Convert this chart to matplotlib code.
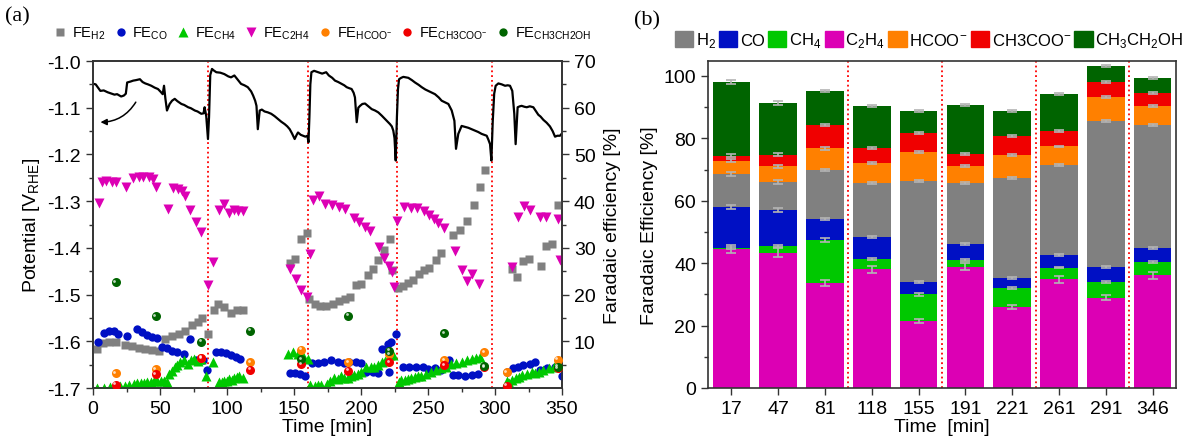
import numpy as np
import matplotlib
matplotlib.use("Agg")
import matplotlib.pyplot as plt
from matplotlib.lines import Line2D
from matplotlib.patches import Patch
from matplotlib.transforms import offset_copy

plt.rcParams['font.family'] = ['Liberation Sans', 'DejaVu Sans']
plt.rcParams['mathtext.fontset'] = 'custom'
plt.rcParams['mathtext.rm'] = 'Liberation Sans'

# ---------------- panel (a) data ----------------
# electrode potential vs time
t_pot = [0.5, 2, 4, 5.5, 8, 11, 13, 16, 18, 21, 23, 24.5, 25.5, 28, 30, 32, 35, 37, 39, 41, 43.5, 46,
         48.5, 50.5, 52, 53, 54, 55.2, 57.2, 59, 61, 63, 66, 68, 71, 73, 76, 78, 80.8, 82.5, 83.3, 84.5,
         85.8, 86.6, 87.5, 88.8, 90, 92, 95, 98, 101, 103, 105.5, 108, 110.5, 113, 115.5, 118, 119.5,
         121, 122, 123, 124.4, 126, 128, 130.5, 133, 135.5, 138, 140.5, 143, 145, 146.8, 148.5, 150.5,
         152, 153, 155, 156.7, 158.5, 160, 160.8, 161.5, 162.2, 163, 165, 168, 171, 174, 176, 178.5,
         180.6, 183, 185.6, 187.5, 189.3, 191, 193, 194.5, 195.5, 196.8, 198, 199.3, 201, 203, 205.5,
         208, 210.5, 212.9, 215.5, 217.9, 220, 221.6, 223, 224.1, 225, 225.9, 226.8, 227.6, 228.4, 230,
         231.6, 233.5, 235.3, 238, 240.3, 243, 245.3, 248, 250.2, 253, 255.2, 258, 260.2, 263, 265.2,
         267.7, 269.7, 270.9, 272.6, 275.1, 277.5, 280.1, 282.5, 285.1, 287.5, 290, 292, 293.8, 295,
         296.3, 297.3, 298.3, 299.4, 300.5, 302.5, 305, 307.5, 309.5, 311.2, 312.9, 314.4, 315.4, 316.9,
         318.5, 319.9, 322, 323.7, 326, 328.6, 330.5, 332.3, 334, 336.1, 338.5, 341, 343, 344.8, 346.5,
         348.5, 350]
v_pot = [-1.049, -1.050, -1.058, -1.064, -1.063, -1.067, -1.069, -1.072, -1.071, -1.076, -1.074, -1.070,
         -1.046, -1.044, -1.042, -1.041, -1.039, -1.045, -1.048, -1.050, -1.053, -1.057, -1.060, -1.066,
         -1.071, -1.053, -1.080, -1.106, -1.092, -1.085, -1.081, -1.086, -1.092, -1.094, -1.099, -1.101,
         -1.106, -1.108, -1.113, -1.112, -1.099, -1.118, -1.167, -1.120, -1.030, -1.017, -1.020, -1.024,
         -1.025, -1.028, -1.033, -1.035, -1.031, -1.040, -1.049, -1.052, -1.056, -1.065, -1.074, -1.085,
         -1.096, -1.146, -1.106, -1.104, -1.108, -1.110, -1.113, -1.118, -1.124, -1.130, -1.135, -1.140,
         -1.146, -1.155, -1.167, -1.158, -1.153, -1.158, -1.160, -1.162, -1.160, -1.174, -1.120, -1.050,
         -1.024, -1.021, -1.024, -1.027, -1.024, -1.031, -1.036, -1.042, -1.045, -1.049, -1.052, -1.056,
         -1.058, -1.060, -1.068, -1.078, -1.131, -1.100, -1.096, -1.092, -1.091, -1.097, -1.103, -1.106,
         -1.110, -1.117, -1.124, -1.130, -1.135, -1.140, -1.149, -1.165, -1.213, -1.120, -1.060, -1.039,
         -1.036, -1.034, -1.035, -1.036, -1.041, -1.046, -1.051, -1.056, -1.061, -1.064, -1.068, -1.071,
         -1.078, -1.085, -1.089, -1.092, -1.106, -1.128, -1.188, -1.156, -1.139, -1.141, -1.143, -1.146,
         -1.149, -1.152, -1.156, -1.158, -1.160, -1.168, -1.178, -1.213, -1.130, -1.070, -1.053, -1.048,
         -1.050, -1.053, -1.052, -1.053, -1.064, -1.113, -1.178, -1.099, -1.097, -1.096, -1.098, -1.099,
         -1.097, -1.099, -1.107, -1.115, -1.119, -1.126, -1.132, -1.140, -1.150, -1.162, -1.160, -1.160,
         -1.155]

t_h2 = [3, 7.5, 11.8, 17.5, 24, 29, 34, 39, 44, 49, 54, 59, 64, 69, 74, 78, 81, 86, 90, 93.5, 98, 103,
        107.5, 112, 147, 151, 155.5, 159.5, 161, 165.5, 169.5, 173.8, 178.8, 183.8, 188, 191.5, 196.3,
        200, 205, 208.8, 213, 217, 221.3, 222.8, 227.5, 231, 235, 239, 243, 247, 251, 256, 260, 269, 274,
        279, 284, 288.8, 292.8, 312.5, 316.5, 321, 325.5, 334, 338, 342.5, 347]
fe_h2 = [8.4, 9.6, 9.8, 9.8, 9.2, 8.9, 8.6, 8.4, 8.1, 8.0, 10.5, 11.1, 11.6, 12.3, 13.4, 14.2, 14.9, 11.6,
         16.6, 18.0, 17.3, 16.1, 16.6, 16.8, 26.8, 27.6, 31.9, 33.2, 19.1, 18.0, 17.5, 17.6, 18.0, 18.6,
         19.0, 19.5, 22.0, 22.2, 24.1, 25.4, 27.5, 29.6, 32.0, 25.2, 21.5, 21.8, 22.5, 23.2, 24.5, 25.2,
         25.7, 27.5, 28.9, 32.7, 33.8, 35.8, 39.1, 43.1, 46.7, 25.4, 23.8, 27.1, 27.6, 26.2, 30.3, 30.8,
         39.2]

t_co = [3.5, 8, 12, 16, 18.5, 25, 33, 36.8, 40.5, 44.3, 47.5, 51.8, 55.5, 59.3, 63, 68, 72.5, 76.8, 82,
        85, 91.8, 95.5, 99, 102.8, 106.5, 110, 146.8, 150.5, 154.3, 158, 163.5, 168, 172.5, 177.5,
        182.5, 187.5, 191, 196, 200, 203.8, 209, 212.5, 215.5, 220, 221, 222.5, 226, 231, 236, 241, 246,
        250, 255, 260, 266, 268.8, 272.5, 277.5, 282.5, 287.5, 308.8, 313.8, 317.5, 321, 326, 329.5,
        333.8, 338.8, 345, 350]
fe_co = [9.9, 11.7, 12.3, 12.1, 11.6, 11.1, 12.6, 11.9, 11.4, 11.0, 10.6, 8.7, 8.6, 8.0, 7.6, 7.3, 10.4,
         5.9, 5.9, 3.9, 7.6, 7.8, 7.5, 7.0, 6.6, 6.3, 3.2, 3.2, 3.0, 2.6, 5.4, 5.4, 5.6, 6.0, 5.6, 5.4,
         5.6, 5.6, 5.3, 3.5, 3.4, 3.2, 8.3, 9.5, 3.4, 9.9, 11.6, 4.6, 4.6, 4.4, 4.4, 4.1, 4.2, 3.9, 6.0,
         2.8, 2.7, 2.5, 2.8, 3.0, 3.5, 4.2, 4.6, 4.9, 5.1, 5.6, 3.9, 4.2, 4.6, 2.5]

t_ch4 = [3, 8, 13, 17, 20.5, 24, 27, 30.5, 33, 35.5, 38, 40.5, 43, 45.5, 48, 50.5, 53, 55.5, 56.8, 59, 61,
         63, 65, 68, 71, 73, 75.5, 78, 80.5, 84.3, 89.3, 94.3, 96, 98, 100, 101.8, 104, 105.5, 107.5,
         109.3, 111.8, 145.5, 149, 153, 156.8, 160.5, 161.8, 165.5, 168, 170.5, 174.3, 177, 180, 182.5,
         185, 187.5, 190, 192.5, 195, 197.5, 200, 203.8, 207.5, 210, 212.5, 216, 218, 220, 222, 223.8,
         228, 230, 232.5, 235, 237.5, 240, 242.5, 245, 248.8, 252.5, 256, 260, 263.8, 267.5, 271, 275,
         278.8, 282.5, 286, 288.8, 308.8, 310.5, 312.5, 316, 318, 320, 323.8, 327.5, 330, 332.5, 336,
         340, 343.8, 347.5]
fe_ch4 = [0.1, 0.1, 0.3, 0.3, 0.4, 0.5, 0.7, 0.9, 1.0, 1.1, 1.1, 1.2, 1.3, 1.6, 1.6, 1.6, 1.4, 1.2, 3.0,
          3.6, 4.4, 5.0, 5.5, 5.9, 5.2, 6.0, 6.2, 5.8, 6.3, 2.6, 5.5, 1.2, 1.3, 1.6, 1.5, 1.9, 1.8, 2.1,
          2.3, 2.5, 2.2, 7.3, 7.6, 7.3, 6.9, 6.2, 0.7, 0.5, 0.6, 0.6, 0.9, 1.5, 2.1, 1.9, 2.5, 2.2, 2.1,
          2.6, 2.8, 3.0, 3.5, 4.4, 4.6, 4.5, 4.9, 5.6, 5.8, 6.3, 7.0, 7.0, 1.2, 1.8, 1.7, 2.0, 2.1, 2.3,
          2.6, 2.5, 3.0, 3.5, 3.9, 4.2, 4.6, 5.1, 5.3, 5.6, 6.0, 6.2, 6.5, 6.7, 1.4, 1.0, 1.8, 2.1, 2.4,
          2.8, 3.0, 3.4, 3.2, 3.5, 3.9, 4.2, 4.6, 4.9]

t_c2h4 = [4.5, 7, 10, 14, 17.5, 24.5, 29.5, 34, 37.5, 41.5, 44.5, 47, 55.7, 59.5, 63.2, 66.5, 69, 72.5,
          76.8, 80.8, 85.7, 89.3, 94.3, 98, 101.5, 105, 108.5, 112, 146.8, 151.8, 155.5, 159.8, 161.8,
          164.5, 168.5, 173.3, 178.3, 183.3, 188.3, 194.5, 198.3, 203.3, 207, 213.3, 217, 220.8, 223.3,
          224.8, 227, 232, 237, 242, 247, 250.8, 254.5, 257.5, 262, 270.5, 275, 279, 282.8, 287.8, 312.5,
          317, 321.5, 326.3, 333.3, 337.8, 347, 348.8]
fe_c2h4 = [39.5, 44.1, 44.3, 44.1, 44.0, 43.1, 45.0, 45.2, 45.2, 45.2, 44.8, 43.1, 38.4, 42.8, 42.5, 42.1,
           41.2, 38.0, 35.5, 33.4, 22.0, 27.0, 38.1, 39.4, 37.5, 38.0, 37.9, 37.9, 25.5, 23.4, 20.9, 19.4,
           28.7, 40.2, 41.0, 39.3, 39.1, 38.8, 38.4, 36.3, 35.6, 34.4, 33.6, 30.2, 27.9, 26.2, 24.8, 21.6,
           35.8, 38.8, 38.6, 38.5, 37.8, 37.1, 36.1, 35.4, 34.3, 29.4, 25.2, 23.0, 24.3, 22.2, 26.0, 36.6,
           38.9, 38.2, 36.6, 36.6, 36.2, 27.3]

t_liq = [16.8, 46.8, 80.5, 117.5, 155.5, 190.5, 220.8, 261.8, 292, 308.8, 346.8]
fe_hcoo = [3.2, 4.1, 6.5, 5.6, 8.2, 5.6, 7.2, 5.9, 7.6, 3.4, 6.1]
fe_ch3coo = [0.7, 2.9, 6.4, 3.9, 5.1, 3.7, 5.5, 4.9, 4.5, 0.5, 4.2]
t_etoh = [16.8, 46.8, 80.5, 117.5, 155.5, 190.5, 220.8, 261.8, 292, 346.8]
fe_etoh = [22.6, 15.4, 9.9, 12.3, 6.2, 15.5, 8.0, 11.8, 4.7, 4.6]

t_breaks = [86, 160.5, 227, 298]

# ---------------- panel (b) data ----------------
time_labels = ['17', '47', '81', '118', '155', '191', '221', '261', '291', '346']
fe_b_c2h4 = [44.5, 43.4, 33.7, 38.0, 21.5, 38.9, 26.0, 34.8, 28.9, 36.1]
fe_b_ch4 = [0.5, 2.2, 13.8, 3.3, 8.5, 2.1, 6.1, 3.8, 5.0, 4.4]
fe_b_co = [13.0, 11.5, 6.7, 7.2, 4.0, 5.1, 3.2, 4.1, 5.0, 4.4]
fe_b_h2 = [10.6, 8.9, 15.6, 17.1, 32.4, 19.6, 32.0, 28.7, 46.8, 39.4]
fe_b_hcoo = [4.3, 5.0, 7.0, 6.4, 9.1, 5.5, 7.4, 6.0, 7.5, 6.0]
fe_b_ch3coo = [1.6, 3.8, 7.5, 5.0, 6.3, 3.8, 6.0, 4.9, 4.9, 4.3]
fe_b_etoh = [23.5, 16.5, 10.9, 13.3, 7.1, 15.8, 8.1, 12.0, 5.0, 4.7]
err_b_c2h4 = [1.2, 1.5, 1.0, 1.0, 0.7, 1.2, 0.7, 1.2, 0.8, 1.2]
err_b_ch4 = [0.3, 0.3, 0.7, 0.3, 0.4, 0.3, 0.3, 0.3, 0.3, 0.3]
err_b_rest = [0.6, 0.6, 0.4, 0.3, 0.3, 0.3, 0.3, 0.3, 0.3, 0.3]
b_breaks = [2.5, 4.5, 6.5, 8.5]

c_h2 = '#808080'
c_co = '#0010C4'
c_ch4 = '#00C800'
c_c2h4 = '#DC00B4'
c_hcoo = '#FF8000'
c_ch3coo = '#F00000'
c_etoh = '#006400'

fig = plt.figure(figsize=(11.84, 4.39), dpi=100)

# ================= (a) =================
ax1 = fig.add_axes([93 / 1184, 50 / 439, 469 / 1184, 327 / 439])
ax1r = ax1.twinx()

for tb in t_breaks:
    ax1.axvline(tb, color='red', ls=':', lw=1.3)
ax1.plot(t_pot, v_pot, color='black', lw=1.6)
ax1.annotate('', xy=(3.5, -1.131), xytext=(33, -1.083),
             arrowprops=dict(arrowstyle='-|>', connectionstyle='arc3,rad=-0.3',
                             color='black', lw=1.1, mutation_scale=9))

ms = 6
ax1r.plot(t_h2, fe_h2, 's', color=c_h2, ms=ms, mec='none')
ax1r.plot(t_co, fe_co, 'o', color=c_co, ms=ms, mec='none')
ax1r.plot(t_ch4, fe_ch4, '^', color=c_ch4, ms=ms + 0.5, mec='none')
ax1r.plot(t_c2h4, fe_c2h4, 'v', color=c_c2h4, ms=ms + 0.5, mec='none')
hl = offset_copy(ax1r.transData, fig=fig, x=-1.3, y=1.3, units='dots')
for tt, ff, cc in [(t_liq, fe_hcoo, c_hcoo), (t_liq, fe_ch3coo, c_ch3coo), (t_etoh, fe_etoh, c_etoh)]:
    ax1r.plot(tt, ff, 'o', color=cc, ms=ms + 0.5, mec='none', zorder=5)
    ax1r.plot(tt, ff, 'o', color='white', ms=2, mec='none', alpha=0.75, zorder=6, transform=hl)

ax1.set_xlim(0, 350)
ax1.set_ylim(-1.7, -1.0)
ax1r.set_ylim(0, 70)
ax1.set_xticks(np.arange(0, 351, 50))
ax1.set_xticks(np.arange(0, 351, 25), minor=True)
ax1.set_yticks(np.arange(-1.7, -0.99, 0.1))
ax1.set_yticks(np.arange(-1.7, -0.99, 0.05), minor=True)
ax1.yaxis.set_major_formatter(matplotlib.ticker.FormatStrFormatter('%.1f'))
ax1r.set_yticks(np.arange(10, 71, 10))
ax1r.set_yticks(np.arange(5, 71, 5), minor=True)

ax1.set_xlabel('Time [min]', fontsize=14, labelpad=1)
ax1.set_ylabel(r'Potential [V$_\mathregular{RHE}$]', fontsize=14, labelpad=4)
ax1r.set_ylabel('Faradaic efficiency [%]', fontsize=14, labelpad=6)

for a in (ax1, ax1r):
    a.tick_params(which='both', direction='out', labelsize=14, width=1, color='#333333')
    a.tick_params(which='major', length=5)
    a.tick_params(which='minor', length=3)
    for s in a.spines.values():
        s.set_linewidth(1.2)
        s.set_color('#333333')

leg_a = [
    Line2D([], [], marker='s', color=c_h2, ls='none', ms=6, mec='none', label=r'FE$_\mathregular{H2}$'),
    Line2D([], [], marker='o', color=c_co, ls='none', ms=6, mec='none', label=r'FE$_\mathregular{CO}$'),
    Line2D([], [], marker='^', color=c_ch4, ls='none', ms=7, mec='none', label=r'FE$_\mathregular{CH4}$'),
    Line2D([], [], marker='v', color=c_c2h4, ls='none', ms=7, mec='none', label=r'FE$_\mathregular{C2H4}$'),
    Line2D([], [], marker='o', color=c_hcoo, ls='none', ms=6, mec='none', label=r'FE$_\mathregular{HCOO^{-}}$'),
    Line2D([], [], marker='o', color=c_ch3coo, ls='none', ms=6, mec='none', label=r'FE$_\mathregular{CH3COO^{-}}$'),
    Line2D([], [], marker='o', color=c_etoh, ls='none', ms=6, mec='none', label=r'FE$_\mathregular{CH3CH2OH}$'),
]
fig.legend(handles=leg_a, loc='center', bbox_to_anchor=(322 / 1184, 1 - 34 / 439), ncol=7,
           frameon=False, fontsize=10.5, handletextpad=0.3, columnspacing=0.55, handlelength=1.0,
           borderpad=0)

fig.text(5 / 1184, 1 - 17 / 439, '(a)', fontsize=16, family='Liberation Serif', va='center')

# ================= (b) =================
ax2 = fig.add_axes([708 / 1184, 50 / 439, 468 / 1184, 327 / 439])
x = np.arange(len(time_labels))
w = 0.8
stack = [(fe_b_c2h4, c_c2h4, err_b_c2h4), (fe_b_ch4, c_ch4, err_b_ch4), (fe_b_co, c_co, err_b_rest),
         (fe_b_h2, c_h2, err_b_rest), (fe_b_hcoo, c_hcoo, err_b_rest),
         (fe_b_ch3coo, c_ch3coo, err_b_rest), (fe_b_etoh, c_etoh, err_b_rest)]
bottom = np.zeros(len(x))
for vals, col, err in stack:
    vals = np.array(vals)
    ax2.bar(x, vals, w, bottom=bottom, color=col, edgecolor='none')
    top = bottom + vals
    ax2.errorbar(x, top, yerr=err, fmt='none', ecolor='#B4B4B4', elinewidth=1.2, capsize=3.5,
                 capthick=1.2, zorder=4)
    bottom = top

for xb in b_breaks:
    ax2.axvline(xb, color='red', ls=':', lw=1.3)

ax2.set_xlim(-0.5, 9.5)
ax2.set_ylim(0, 104.8)
ax2.set_xticks(x)
ax2.set_xticklabels(time_labels)
ax2.set_yticks(np.arange(0, 101, 20))
ax2.set_yticks(np.arange(0, 101, 10), minor=True)
ax2.tick_params(which='both', direction='out', labelsize=14, width=1, color='#333333')
ax2.tick_params(which='major', length=5)
ax2.tick_params(which='minor', length=3)
for s in ax2.spines.values():
    s.set_linewidth(1.2)
    s.set_color('#333333')
ax2.set_xlabel('Time  [min]', fontsize=14, labelpad=1)
ax2.set_ylabel('Faradaic Efficiency [%]', fontsize=14, labelpad=4)

leg_b = [Patch(color=c_h2, label=r'H$_2$'), Patch(color=c_co, label='CO'),
         Patch(color=c_ch4, label=r'CH$_4$'), Patch(color=c_c2h4, label=r'C$_2$H$_4$'),
         Patch(color=c_hcoo, label=r'HCOO$^{\mathregular{-}}$'),
         Patch(color=c_ch3coo, label=r'CH3COO$^{\mathregular{-}}$'),
         Patch(color=c_etoh, label=r'CH$_3$CH$_2$OH')]
fig.legend(handles=leg_b, loc='center', bbox_to_anchor=(929 / 1184, 1 - 41 / 439), ncol=7,
           frameon=False, fontsize=12, handletextpad=0.15, columnspacing=0.2, handlelength=1.1,
           handleheight=1.1, borderpad=0)

fig.text(634 / 1184, 1 - 21 / 439, '(b)', fontsize=16, family='Liberation Serif', va='center')

fig.savefig('out.png', dpi=100)
